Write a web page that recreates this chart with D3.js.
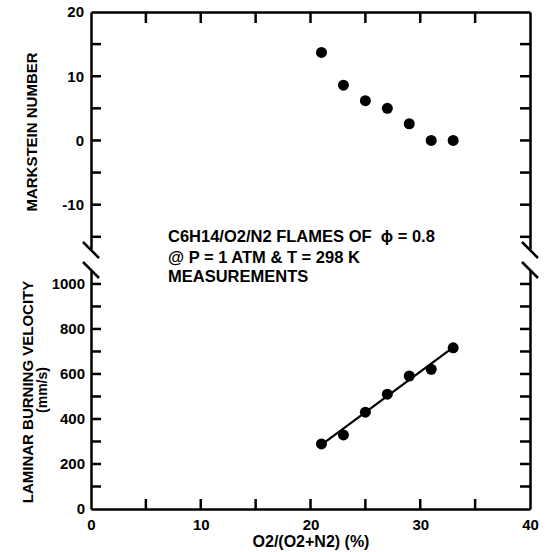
<!DOCTYPE html>
<html>
<head>
<meta charset="utf-8">
<script src="https://cdn.jsdelivr.net/npm/d3@7"></script>
<style>
  body { margin: 0; background: #fff; }
  svg { display: block; }
  text { font-family: "Liberation Sans", Arial, sans-serif; font-weight: bold; fill: #000; }
</style>
</head>
<body>
<div id="chart"></div>
<script>
// O2 fraction of the oxidizer (%), shared by both panels
var o2Frac = [21, 23, 25, 27, 29, 31, 33];
// upper panel: Markstein number
var markstein = [13.7, 8.6, 6.2, 5.0, 2.6, 0, 0];
// lower panel: laminar burning velocity (mm/s)
var burningVel = [289, 329, 430, 510, 591, 621, 716];
// fitted line through the velocity points
var fitO2 = [20.8, 33];
var fitVel = [278, 718];

var xTicks = [5, 10, 15, 20, 25, 30, 35];
var xLabels = [0, 10, 20, 30, 40];
var mkTicks = [-15, -10, -5, 0, 5, 10, 15];
var mkLabels = [-10, 0, 10, 20];
var velTicks = [100, 200, 300, 400, 500, 600, 700, 800, 900, 1000];
var velLabels = [0, 200, 400, 600, 800, 1000];

var noteLines = ["C6H14/O2/N2 FLAMES OF  \u03d5 = 0.8", "@ P = 1 ATM & T = 298 K", "MEASUREMENTS"];

var width = 545, height = 552;

var svg = d3.select("#chart")
  .append("svg")
    .attr("width", width)
    .attr("height", height);

var x = d3.scaleLinear().domain([0, 40]).range([91, 530]);
// the two y scales each stop at the axis break
var yTop = d3.scaleLinear().domain([-16.9, 20]).range([249, 12]);
var yBot = d3.scaleLinear().domain([0, 1062]).range([509, 270]);

var x0 = x.range()[0], x1 = x.range()[1];
var yB = yBot.range()[0], yT = yTop.range()[1];

var plain = function(d){ return String(d); };

function styleAxis(g) {
  g.selectAll("path, line").attr("stroke", "#000").attr("stroke-width", 2.5);
  g.selectAll("text").attr("fill", "#000");
  g.attr("font-family", null);
}

// axes give the lines and labels, ticks drawn below
svg.append("g")
  .attr("transform", "translate(0," + yB + ")")
  .call(d3.axisBottom(x).tickValues(xLabels).tickFormat(plain).tickSize(0).tickPadding(10))
  .call(styleAxis)
  .attr("font-size", 15);

svg.append("g")
  .attr("transform", "translate(0," + yT + ")")
  .call(d3.axisTop(x).tickValues([]).tickSize(0))
  .call(styleAxis);

svg.append("g")
  .attr("transform", "translate(" + x0 + ",0)")
  .call(d3.axisLeft(yTop).tickValues(mkLabels).tickFormat(plain).tickSize(0).tickPadding(7))
  .call(styleAxis)
  .attr("font-size", 15);

svg.append("g")
  .attr("transform", "translate(" + x0 + ",0)")
  .call(d3.axisLeft(yBot).tickValues(velLabels).tickFormat(plain).tickSize(0).tickPadding(6))
  .call(styleAxis)
  .attr("font-size", 15);

svg.append("g")
  .attr("transform", "translate(" + x1 + ",0)")
  .call(d3.axisRight(yTop).tickValues([]).tickSize(0))
  .call(styleAxis);

svg.append("g")
  .attr("transform", "translate(" + x1 + ",0)")
  .call(d3.axisRight(yBot).tickValues([]).tickSize(0))
  .call(styleAxis);

// inward ticks on all four sides
var ticks = [];
xTicks.forEach(function(v) {
  ticks.push({x1: x(v), y1: yB, x2: x(v), y2: yB - 10});
  ticks.push({x1: x(v), y1: yT, x2: x(v), y2: yT + 11});
});
mkTicks.forEach(function(v) {
  ticks.push({x1: x0, y1: yTop(v), x2: x0 + 10, y2: yTop(v)});
  ticks.push({x1: x1, y1: yTop(v), x2: x1 - 10, y2: yTop(v)});
});
velTicks.forEach(function(v) {
  ticks.push({x1: x0, y1: yBot(v), x2: x0 + 10, y2: yBot(v)});
  ticks.push({x1: x1, y1: yBot(v), x2: x1 - 10, y2: yBot(v)});
});
svg.selectAll("line.tk")
  .data(ticks)
  .enter()
  .append("line")
    .attr("class", "tk")
    .attr("x1", function(d){ return d.x1; })
    .attr("y1", function(d){ return d.y1; })
    .attr("x2", function(d){ return d.x2; })
    .attr("y2", function(d){ return d.y2; })
    .attr("stroke", "#000")
    .attr("stroke-width", 2.5);

// break marks on both vertical axes
var breaks = [];
x.range().forEach(function(px) {
  breaks.push({x: px, y: yTop.range()[0] + 1});
  breaks.push({x: px, y: yBot.range()[1]});
});
svg.selectAll("line.brk")
  .data(breaks)
  .enter()
  .append("line")
    .attr("class", "brk")
    .attr("x1", function(d){ return d.x - 8; })
    .attr("y1", function(d){ return d.y - 8; })
    .attr("x2", function(d){ return d.x + 8; })
    .attr("y2", function(d){ return d.y + 8; })
    .attr("stroke", "#000")
    .attr("stroke-width", 2.5);

// fitted line
svg.append("path")
  .datum(d3.zip(fitO2, fitVel))
  .attr("d", d3.line().x(function(d){ return x(d[0]); }).y(function(d){ return yBot(d[1]); }))
  .attr("fill", "none")
  .attr("stroke", "#000")
  .attr("stroke-width", 2.2);

// points
svg.selectAll("circle.mk")
  .data(d3.zip(o2Frac, markstein))
  .enter()
  .append("circle")
    .attr("class", "mk")
    .attr("cx", function(d){ return x(d[0]); })
    .attr("cy", function(d){ return yTop(d[1]); })
    .attr("r", 5.5)
    .attr("fill", "#000");

svg.selectAll("circle.vel")
  .data(d3.zip(o2Frac, burningVel))
  .enter()
  .append("circle")
    .attr("class", "vel")
    .attr("cx", function(d){ return x(d[0]); })
    .attr("cy", function(d){ return yBot(d[1]); })
    .attr("r", 5.5)
    .attr("fill", "#000");

// axis titles
svg.append("text")
  .attr("transform", "translate(37,132)rotate(-90)")
  .style("text-anchor", "middle")
  .style("font-size", 15)
  .text("MARKSTEIN NUMBER");

svg.append("text")
  .attr("transform", "translate(33,392)rotate(-90)")
  .style("text-anchor", "middle")
  .style("font-size", 15)
  .text("LAMINAR BURNING VELOCITY");

svg.append("text")
  .attr("transform", "translate(47,390)rotate(-90)")
  .style("text-anchor", "middle")
  .style("font-size", 14)
  .text("(mm/s)");

svg.append("text")
  .attr("x", 311)
  .attr("y", 547)
  .style("text-anchor", "middle")
  .style("font-size", 16)
  .text("O2/(O2+N2) (%)");

// annotation
svg.selectAll("text.note")
  .data(noteLines)
  .enter()
  .append("text")
    .attr("class", "note")
    .attr("x", 168)
    .attr("y", function(d, i){ return [242, 263, 282][i]; })
    .attr("xml:space", "preserve")
    .style("white-space", "pre")
    .style("font-size", 16.5)
    .text(function(d){ return d; });
</script>
</body>
</html>
